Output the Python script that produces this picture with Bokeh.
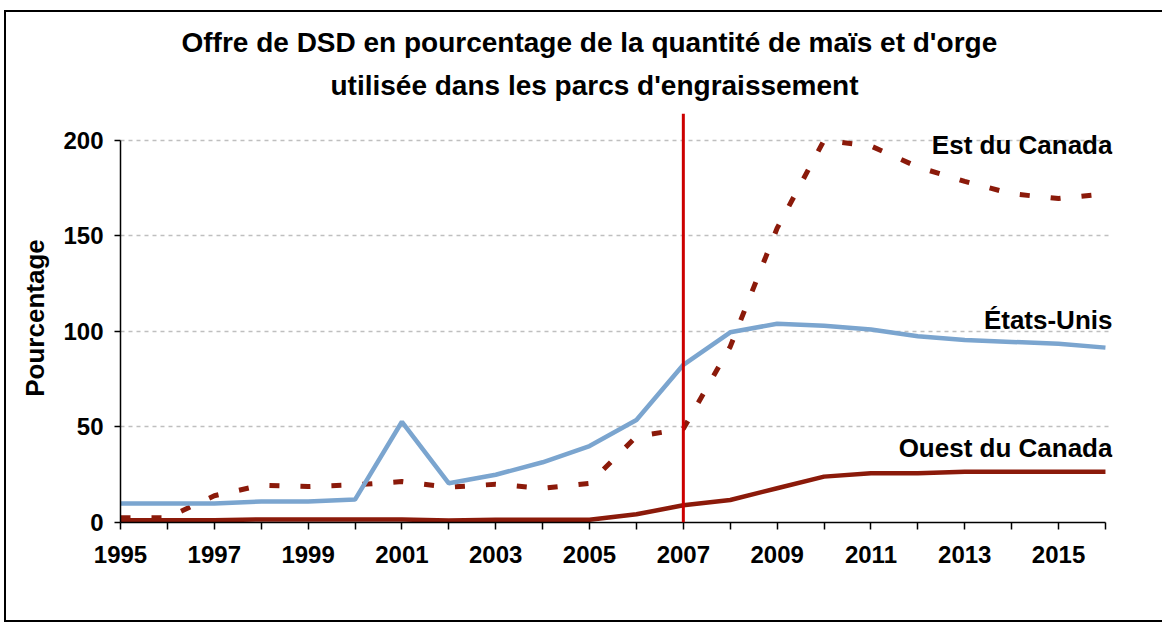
from bokeh.plotting import figure
from bokeh.models import Range1d, FixedTicker, Label, Span, Title
from bokeh.embed import file_html
from bokeh.resources import INLINE

# ---- data ----
years = list(range(1995, 2017))
etats_unis = [10, 10, 10, 11, 11, 12, 52.7, 20.5, 25, 31.5, 40, 53.6, 82.5,
              99.5, 104, 103, 101, 97.5, 95.5, 94.5, 93.5, 91.5]
est_canada = [2.5, 2.5, 14, 19.5, 18.8, 19.7, 21.4, 18.5, 20, 17.9, 20.5, 45, 49,
              92, 154, 200, 197, 186, 178.5, 172, 169.5, 172]
ouest_canada = [1.2, 1.2, 1.2, 1.6, 1.6, 1.6, 1.6, 1, 1.4, 1.4, 1.4, 4.3, 9,
                11.8, 17.9, 24, 25.8, 25.8, 26.6, 26.6, 26.6, 26.6]
marker_year = 2007
x_tick_labels = {y: (str(y) if y % 2 == 1 else "") for y in years}
y_ticks = [0, 50, 100, 150, 200]
title_lines = ["Offre de DSD en pourcentage de la quantité de maïs et d'orge",
               "utilisée dans les parcs d'engraissement"]
series_names = ["Est du Canada", "États-Unis", "Ouest du Canada"]
y_axis_title = "Pourcentage"

FONT = "Liberation Sans"
DARK_RED = "#8b1a0a"
BLUE = "#7ba5cf"

p = figure(width=1156, height=608, output_backend="svg", toolbar_location=None,
           x_range=Range1d(years[0], years[-1] + 0.15),
           y_range=Range1d(y_ticks[0], y_ticks[-1] + 14),
           min_border_left=114, min_border_right=50, min_border_top=101,
           min_border_bottom=98)
p.styles = {"margin-top": "12px", "margin-left": "6px",
            "outline": "2px solid black", "outline-offset": "0px"}
p.background_fill_color = "white"
p.border_fill_color = "white"
p.outline_line_color = None
p.xgrid.visible = False
p.ygrid.grid_line_color = "#bfbfbf"
p.ygrid.grid_line_dash = "4 4"
p.ygrid.grid_line_width = 1.5

# axes
xa = p.xaxis[0]
xa.ticker = FixedTicker(ticks=years)
xa.major_label_overrides = x_tick_labels
xa.bounds = (years[0], years[-1])
xa.minor_tick_line_color = None
xa.major_tick_in = 0
xa.major_tick_out = 7
xa.major_tick_line_color = "black"
xa.major_tick_line_width = 1.5
xa.axis_line_color = "black"
xa.axis_line_width = 1.5
xa.major_label_standoff = 16
xa.major_label_text_font = FONT
xa.major_label_text_font_style = "bold"
xa.major_label_text_font_size = "24px"
xa.major_label_text_color = "black"

ya = p.yaxis[0]
ya.ticker = FixedTicker(ticks=y_ticks)
ya.bounds = (y_ticks[0], y_ticks[-1])
ya.minor_tick_line_color = None
ya.major_tick_in = 0
ya.major_tick_out = 6
ya.major_tick_line_color = "black"
ya.major_tick_line_width = 1.5
ya.axis_line_color = "black"
ya.axis_line_width = 1.5
ya.major_label_standoff = 11
ya.major_label_text_font = FONT
ya.major_label_text_font_style = "bold"
ya.major_label_text_font_size = "24px"
ya.major_label_text_color = "black"
ya.axis_label = y_axis_title
ya.axis_label_standoff = 10
ya.axis_label_text_font = FONT
ya.axis_label_text_font_style = "bold"
ya.axis_label_text_font_size = "26px"
ya.axis_label_text_color = "black"

# series
p.line(years, ouest_canada, line_color=DARK_RED, line_width=4.5)
p.line(years, est_canada, line_color=DARK_RED, line_width=5, line_dash="10 21")
p.line(years, etats_unis, line_color=BLUE, line_width=4.5)

# 2007 marker line
p.add_layout(Span(location=marker_year, dimension="height",
                  line_color="#cc0000", line_width=3))

# series labels
last_vals = [est_canada[-1], etats_unis[-1], ouest_canada[-1]]
offsets = [49, 28, 24]
for name, v, off in zip(series_names, last_vals, offsets):
    p.add_layout(Label(x=years[-1], y=v, x_offset=7, y_offset=off, text=name,
                       text_align="right", text_baseline="alphabetic",
                       text_font=FONT, text_font_style="bold",
                       text_font_size="26px", text_color="black"))

# title (second line added first so it sits closest to the plot)
for line, off, stand in zip(reversed(title_lines), [210, 61], [26, -7]):
    p.add_layout(Title(text=line, align="left", offset=off, standoff=stand,
                       text_font=FONT, text_font_style="bold",
                       text_font_size="28px", text_color="black"), "above")

open("out.html", "w").write(file_html(p, INLINE))
